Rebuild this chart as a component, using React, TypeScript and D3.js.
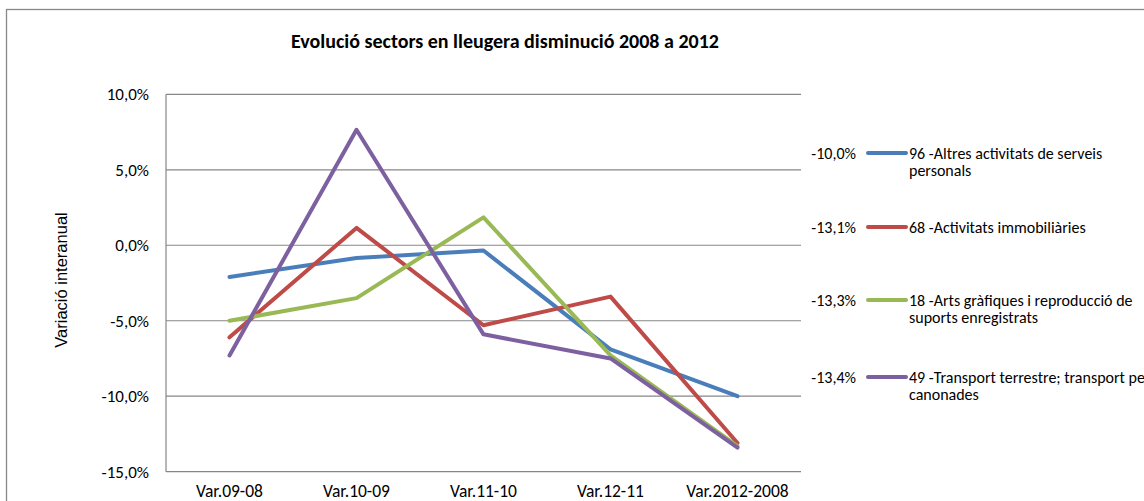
import * as d3 from "d3";

const categories = ["Var.09-08", "Var.10-09", "Var.11-10", "Var.12-11", "Var.2012-2008"];
const yTicks = [10, 5, 0, -5, -10, -15];

const blueValues = [-2.1, -0.85, -0.35, -6.9, -10.0];
const redValues = [-6.1, 1.15, -5.3, -3.4, -13.1];
const greenValues = [-5.0, -3.5, 1.85, -7.3, -13.3];
const purpleValues = [-7.3, 7.65, -5.9, -7.5, -13.4];

const seriesNames = [
  ["96 -Altres activitats de serveis", "personals"],
  ["68 -Activitats immobiliàries"],
  ["18 -Arts gràfiques i reproducció de", "suports enregistrats"],
  ["49 -Transport terrestre; transport per", "canonades"],
];
const legendValues = ["-10,0%", "-13,1%", "-13,3%", "-13,4%"];

const series = [
  { values: blueValues, color: "#4A7EBB", legendY: 153 },
  { values: redValues, color: "#BE4B48", legendY: 227 },
  { values: greenValues, color: "#98B954", legendY: 300 },
  { values: purpleValues, color: "#7D60A0", legendY: 377 },
];

const font = "Carlito, Lato, 'Liberation Sans', sans-serif";
const fmt = (v: number) => `${v.toFixed(1).replace(".", ",")}%`;

export default function App() {
  const width = 1144;
  const height = 501;
  const left = 166;
  const right = 801;
  const top = 94.3;
  const bottom = 471.7;

  const x = d3.scaleBand().domain(categories).range([left, right]);
  const y = d3.scaleLinear().domain([-15, 10]).range([bottom, top]);

  const line = d3
    .line<number>()
    .x((_, i) => (x(categories[i]) ?? 0) + x.bandwidth() / 2)
    .y((d) => y(d));

  return (
    <svg
      width={width}
      height={height}
      style={{ position: "absolute", left: 0, top: 0, background: "#fff" }}
      fontFamily={font}
    >
      <rect x={6.5} y={9.5} width={1200} height={600} fill="#fff" stroke="#888" strokeWidth={1.3} />
      <text x={505} y={48} textAnchor="middle" fontSize={20} fontWeight="bold" fill="#000">
        Evolució sectors en lleugera disminució 2008 a 2012
      </text>

      {yTicks.map((t) => (
        <g key={t}>
          <line x1={left} x2={right} y1={y(t)} y2={y(t)} stroke="#868686" strokeWidth={1.2} />
          <text x={149} y={y(t)} dy="0.35em" textAnchor="end" fontSize={17} fill="#000">
            {fmt(t)}
          </text>
        </g>
      ))}
      <line x1={left} x2={left} y1={top} y2={bottom} stroke="#868686" strokeWidth={1.2} />

      {categories.map((c) => (
        <text
          key={c}
          x={(x(c) ?? 0) + x.bandwidth() / 2}
          y={497}
          textAnchor="middle"
          fontSize={17.5}
          fill="#000"
        >
          {c}
        </text>
      ))}

      <text
        transform="translate(67,280) rotate(-90)"
        textAnchor="middle"
        fontSize={16.5}
        fontFamily="'Liberation Sans', Arial, sans-serif"
        fill="#000"
      >
        Variació interanual
      </text>

      {series.map((s, i) => (
        <path
          key={i}
          d={line(s.values) ?? ""}
          fill="none"
          stroke={s.color}
          strokeWidth={4}
          strokeLinejoin="round"
          strokeLinecap="round"
        />
      ))}

      {series.map((s, i) => (
        <g key={i}>
          <text x={856} y={s.legendY} dy="0.35em" textAnchor="end" fontSize={16} fill="#000">
            {legendValues[i]}
          </text>
          <line x1={868} x2={906} y1={s.legendY} y2={s.legendY} stroke={s.color} strokeWidth={4} strokeLinecap="round" />
          {seriesNames[i].map((n, j) => (
            <text key={j} x={909} y={s.legendY + j * 17.5} dy="0.35em" fontSize={16} fill="#000">
              {n}
            </text>
          ))}
        </g>
      ))}
    </svg>
  );
}
